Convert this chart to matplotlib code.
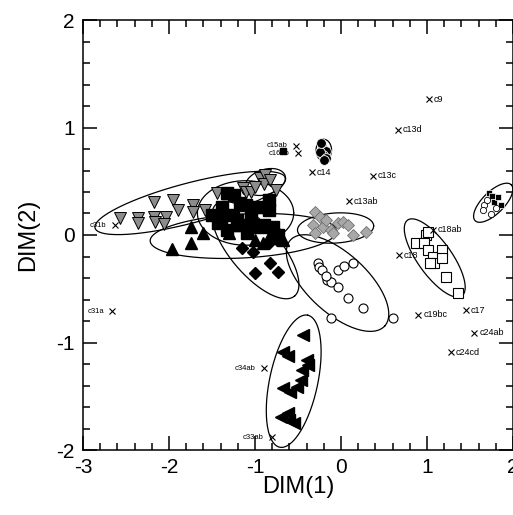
import numpy as np
import matplotlib
matplotlib.use("Agg")
import matplotlib.pyplot as plt
from matplotlib.ticker import MultipleLocator

plt.rcParams['font.family'] = ['Liberation Sans', 'DejaVu Sans']

# ---------------- data ----------------
grey_tri_x = [-2.57, -2.36, -2.36, -2.18, -2.04, -2.18, -1.95, -1.90, -1.72, -1.72, -1.58, -1.44,
              -1.14, -2.16, -2.06, -1.10, -1.05, -0.94, -0.88, -0.90, -0.82, -0.76, -1.00]
grey_tri_y = [0.16, 0.16, 0.11, 0.17, 0.17, 0.31, 0.33, 0.23, 0.28, 0.21, 0.23, 0.39,
              0.44, 0.12, 0.10, 0.40, 0.40, 0.53, 0.56, 0.47, 0.51, 0.42, 0.45]

sq_x = [-1.25, -1.17, -1.38, -1.26, -1.43, -1.32, -1.19, -1.05, -1.09, -0.97, -0.84, -0.84,
        -0.90, -0.79, -0.73, -1.05, -1.32, -1.40, -1.21, -0.91, -1.11, -1.50]
sq_y = [0.37, 0.30, 0.26, 0.19, 0.11, 0.05, 0.09, 0.07, 0.02, 0.26, 0.33, 0.23,
        0.09, 0.07, 0.00, 0.19, 0.39, 0.14, 0.14, 0.07, 0.28, 0.19]
small_sq_x = [-0.67]
small_sq_y = [0.78]

btri_x = [-1.96, -1.75, -1.75, -1.60, -1.17, -1.00, -0.82, -0.67, -0.74, -1.05, -0.91, -1.30]
btri_y = [-0.13, -0.07, 0.07, 0.02, 0.09, -0.05, 0.00, -0.05, 0.05, 0.19, -0.07, 0.02]

bdia_x = [-1.15, -1.02, -0.82, -0.73, -1.00, -0.84, -0.74]
bdia_y = [-0.12, -0.16, -0.26, -0.34, -0.35, -0.07, -0.05]

gdia_x = [-0.30, -0.24, -0.32, -0.21, -0.30, -0.12, -0.09, -0.03, 0.02, 0.08, 0.14, 0.29, -0.18]
gdia_y = [0.21, 0.17, 0.09, 0.07, 0.02, 0.05, 0.02, 0.11, 0.12, 0.09, 0.00, 0.03, 0.14]

circ_x = [-0.27, -0.26, -0.16, -0.12, -0.04, 0.03, 0.14, -0.03, 0.08, 0.25, -0.12, 0.61, -0.22, -0.18]
circ_y = [-0.26, -0.30, -0.42, -0.44, -0.33, -0.29, -0.26, -0.48, -0.59, -0.68, -0.77, -0.77, -0.33, -0.38]

osq_x = [0.87, 0.99, 0.96, 1.01, 1.07, 1.08, 1.18, 1.18, 1.04, 1.22, 1.36, 1.01]
osq_y = [-0.07, 0.00, -0.07, -0.14, -0.20, -0.26, -0.14, -0.21, -0.26, -0.39, -0.54, 0.03]

ltri_x = [-0.44, -0.67, -0.62, -0.39, -0.38, -0.45, -0.47, -0.51, -0.67, -0.59, -0.70, -0.62, -0.61, -0.55]
ltri_y = [-0.93, -1.09, -1.13, -1.16, -1.21, -1.26, -1.35, -1.41, -1.42, -1.46, -1.69, -1.66, -1.72, -1.75]

rc_black_x = [1.72, 1.78, 1.86, 1.83, 1.76]
rc_black_y = [0.39, 0.31, 0.28, 0.35, 0.36]
rc_open_x = [1.66, 1.65, 1.74, 1.70, 1.80]
rc_open_y = [0.28, 0.23, 0.20, 0.33, 0.25]

c14_x = [-0.22, -0.18, -0.21, -0.24, -0.17, -0.20, -0.23]
c14_y = [0.82, 0.78, 0.74, 0.77, 0.72, 0.70, 0.86]

lab_names = ['c9', 'c13d', 'c14', 'c13c', 'c13ab', 'c18ab', 'c18', 'c19bc', 'c17', 'c24ab', 'c24cd',
             'c34ab', 'c33ab', 'c31a', 'c31b', 'c15ab', 'c16ab']
lab_x = [1.02, 0.66, -0.34, 0.37, 0.09, 1.07, 0.67, 0.90, 1.45, 1.55, 1.28,
         -0.90, -0.80, -2.66, -2.63, -0.52, -0.50]
lab_y = [1.265, 0.977, 0.586, 0.55, 0.316, 0.05, -0.19, -0.74, -0.70, -0.91, -1.09,
         -1.24, -1.88, -0.71, 0.09, 0.83, 0.76]
lab_left = [False] * 11 + [True] * 6

# ellipses: centre (cx, cy), conjugate semi-axes U=(ux,uy), V=(vx,vy) in data units
ell_cx = [-1.753, -1.135, -0.995, -1.11, -0.063, -0.04, 1.09, 1.77, -0.20, -0.55, -0.879]
ell_cy = [0.298, -0.009, -0.14, 0.205, 0.065, -0.447, -0.214, 0.30, 0.79, -1.36, 0.493]
ell_ux = [1.107, 1.084, 0.455, 0.56, 0.443, 0.548, 0.315, 0.21, 0.0, 0.163, 0.233]
ell_uy = [0.233, 0.047, -0.428, 0.0, 0.019, -0.40, -0.353, 0.167, 0.10, 0.614, 0.037]
ell_vx = [-0.059, -0.014, 0.221, 0.0, 0.0, 0.233, 0.162, -0.09, 0.09, 0.274, 0.0]
ell_vy = [0.18, 0.204, 0.149, 0.30, 0.14, 0.205, 0.091, 0.072, 0.0, -0.046, 0.12]

x_ticks = [-3, -2, -1, 0, 1, 2]
y_ticks = [-2, -1, 0, 1, 2]

# ---------------- figure ----------------
fig = plt.figure(figsize=(5.13, 5.15), dpi=100)
ax = fig.add_axes([83 / 513, 65 / 515, 430 / 513, 430 / 515])

t = np.linspace(0, 2 * np.pi, 200)
for cx, cy, ux, uy, vx, vy in zip(ell_cx, ell_cy, ell_ux, ell_uy, ell_vx, ell_vy):
    ax.plot(cx + ux * np.cos(t) + vx * np.sin(t), cy + uy * np.cos(t) + vy * np.sin(t),
            color='black', lw=0.9, zorder=2)

ax.plot(grey_tri_x, grey_tri_y, 'v', ms=8, mfc='#8c8c8c', mec='black', mew=0.7, ls='none', zorder=3)
ax.plot(gdia_x, gdia_y, 'D', ms=6.5, mfc='#a8a8a8', mec='#707070', mew=0.6, ls='none', zorder=3)
ax.plot(circ_x, circ_y, 'o', ms=6.5, mfc='white', mec='black', mew=0.8, ls='none', zorder=3)
ax.plot(osq_x, osq_y, 's', ms=7, mfc='white', mec='black', mew=0.8, ls='none', zorder=3)
ax.plot(sq_x, sq_y, 's', ms=8.5, mfc='black', mec='black', ls='none', zorder=4)
ax.plot(small_sq_x, small_sq_y, 's', ms=5, mfc='black', mec='black', ls='none', zorder=4)
ax.plot(btri_x, btri_y, '^', ms=8, mfc='black', mec='black', ls='none', zorder=4)
ax.plot(bdia_x, bdia_y, 'D', ms=6.5, mfc='black', mec='black', ls='none', zorder=4)
ax.plot(ltri_x, ltri_y, '<', ms=8, mfc='black', mec='black', ls='none', zorder=4)
ax.plot(rc_black_x, rc_black_y, 's', ms=4.5, mfc='black', mec='white', mew=0.5, ls='none', zorder=4)
ax.plot(rc_open_x, rc_open_y, 'o', ms=4.5, mfc='white', mec='black', mew=0.6, ls='none', zorder=4)
ax.plot(c14_x, c14_y, 'o', ms=7, mfc='black', mec='white', mew=0.6, ls='none', zorder=4)

for name, x, y, left in zip(lab_names, lab_x, lab_y, lab_left):
    ax.plot([x], [y], 'x', ms=5, color='black', mew=0.8, zorder=5)
    if left:
        ax.annotate(name, (x, y), xytext=(-6, 0), textcoords='offset points',
                    ha='right', va='center', fontsize=5.5, zorder=5)
    else:
        ax.annotate(name, (x, y), xytext=(3.5, 0), textcoords='offset points',
                    ha='left', va='center', fontsize=6.5, zorder=5)

ax.set_xlim(-3, 2)
ax.set_ylim(-2, 2)
ax.set_xticks(x_ticks)
ax.set_yticks(y_ticks)
ax.set_xticklabels([str(v) for v in x_ticks])
ax.set_yticklabels([str(v) for v in y_ticks])
ax.xaxis.set_minor_locator(MultipleLocator(0.2))
ax.yaxis.set_minor_locator(MultipleLocator(0.2))
ax.tick_params(which='both', direction='in', top=True, right=True, width=1.1, color='black')
ax.tick_params(which='major', length=10, labelsize=15, pad=6)
ax.tick_params(which='minor', length=5)
for s in ax.spines.values():
    s.set_linewidth(1.1)
ax.set_xlabel('DIM(1)', fontsize=17, labelpad=-1)
ax.set_ylabel('DIM(2)', fontsize=17, labelpad=12)

fig.savefig('out.png', dpi=100)
